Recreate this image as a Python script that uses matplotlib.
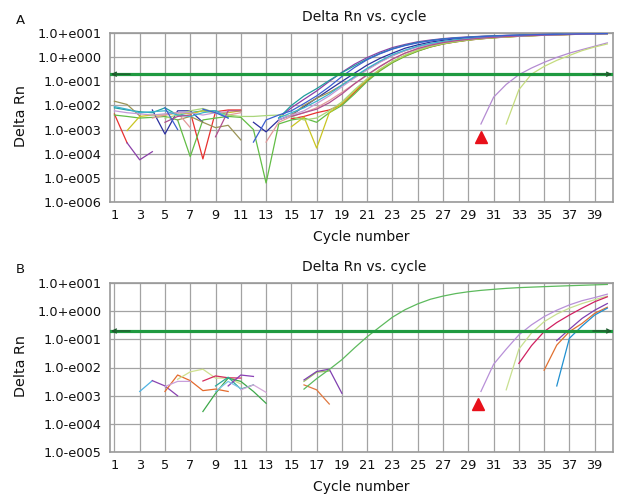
import numpy as np
import matplotlib
matplotlib.use('Agg')
import matplotlib.pyplot as plt
from matplotlib.ticker import FixedLocator, NullLocator, FixedFormatter
import matplotlib.transforms as mtransforms

n = np.nan
cycles = np.arange(1, 41)
threshold = 0.2
x_ticks = list(range(1, 40, 2))

# ---------------- Panel A data (Delta Rn per cycle 1..40, nan = not plotted) ----------------
a_red = [4.4e-3, 2.8e-4, n, n, n, n, 5.5e-3, 6e-5, 5.5e-3, 6.5e-3, 6.5e-3, n, n, n, 2.8e-3, 3.5e-3, 5e-3, 6.5e-3,
         0.011, 0.035, 0.11, 0.29, 0.62, 1.15, 1.85, 2.7, 3.6, 4.4, 5.2, 5.9, 6.5, 7.0, 7.5, 7.9, 8.3, 8.6, 8.9, 9.2, 9.5, 9.8]
a_green = [4e-3, 3.5e-3, 3e-3, 3.2e-3, 3.5e-3, 2.5e-3, 7.5e-5, 2.5e-3, 3e-3, 3.5e-3, 3.2e-3, 1e-3, 6e-6, 1.7e-3,
           2.5e-3, 3e-3, 2e-3, 5e-3, 0.01, 0.03, 0.1, 0.27, 0.6, 1.1, 1.8, 2.7, 3.6, 4.4, 5.2, 5.9, 6.5, 7.0, 7.5, 7.9,
           8.3, 8.6, 8.9, 9.2, 9.5, 9.7]
a_navy = [n, n, n, 6.5e-3, 6.5e-4, 6e-3, 6e-3, 2e-3, n, n, n, 2e-3, 8e-4, 2.5e-3, 4e-3, 9e-3, 0.02, 0.045, 0.1, 0.22,
          0.48, 0.9, 1.5, 2.4, 3.3, 4.3, 5.1, 5.9, 6.5, 7.0, 7.4, 7.8, 8.1, 8.4, 8.7, 8.9, 9.1, 9.3, 9.5, 9.7]
a_purple = [n, 2.8e-4, 5.5e-5, 1.2e-4, n, n, n, n, n, n, n, n, n, 3e-3, 8e-3, 0.018, 0.04, 0.1, 0.24, 0.52, 0.98,
            1.65, 2.55, 3.45, 4.45, 5.25, 6.0, 6.6, 7.1, 7.5, 7.9, 8.2, 8.5, 8.8, 9.0, 9.2, 9.4, 9.5, 9.7, 9.9]
a_teal = [8e-3, 6.5e-3, 5.5e-3, 5e-3, 8e-3, 4e-3, 5e-3, 6e-3, 6e-3, 4e-3, n, n, n, 3e-3, 0.01, 0.025, 0.05, 0.11,
          0.23, 0.45, 0.85, 1.45, 2.3, 3.2, 4.2, 5.0, 5.8, 6.4, 6.9, 7.4, 7.8, 8.1, 8.4, 8.7, 8.9, 9.1, 9.3, 9.4, 9.6, 9.8]
a_olive = [0.015, 0.011, 3.7e-3, n, n, 2.5e-3, 3.5e-3, 2e-3, 1.2e-3, 1.5e-3, 3.7e-4, n, n, n, 4e-3, 0.01, 0.02,
           0.035, 0.07, 0.15, 0.32, 0.65, 1.2, 1.9, 2.8, 3.7, 4.5, 5.3, 6.0, 6.6, 7.1, 7.5, 7.9, 8.3, 8.6, 8.9, 9.2,
           9.4, 9.6, 9.8]
a_yellow = [n, 9e-4, 3.5e-3, 4e-3, 4e-3, 5e-3, 4.5e-3, 6e-3, 5e-3, 5e-3, 6e-3, n, n, n, 1.3e-3, 3.3e-3, 1.7e-4,
            5e-3, 0.012, 0.04, 0.12, 0.31, 0.66, 1.2, 1.95, 2.85, 3.75, 4.55, 5.35, 6.0, 6.6, 7.1, 7.6, 8.0, 8.4, 8.7,
            9.0, 9.3, 9.5, 9.7]
a_salmon = [n, n, n, 3e-3, 4e-3, 5e-3, 1.2e-3, n, n, 4e-3, 5e-3, n, 3e-4, 2e-3, 3.5e-3, 5e-3, 8e-3, 0.016, 0.035,
            0.08, 0.18, 0.4, 0.85, 1.5, 2.3, 3.2, 4.1, 4.9, 5.6, 6.3, 6.8, 7.3, 7.7, 8.1, 8.4, 8.7, 9.0, 9.3, 9.5, 9.7]
a_lightgreen = [n, n, n, n, 3e-3, 4e-3, 6e-3, 7.5e-3, 5e-3, 4e-3, 3.5e-3, 3.5e-3, 3.8e-3, 4e-3, 3.5e-3, 2.5e-3,
                3e-3, 6e-3, 0.014, 0.045, 0.13, 0.32, 0.68, 1.25, 2.0, 2.9, 3.8, 4.6, 5.4, 6.1, 6.7, 7.2, 7.6, 8.0,
                8.4, 8.7, 9.0, 9.3, 9.5, 9.7]
a_lavender = [6e-3, 5e-3, 4.5e-3, 4e-3, 4.5e-3, 5e-3, 5e-3, 4e-3, 5e-3, 5.5e-3, n, n, n, 2.5e-3, 4e-3, 6e-3, 0.012,
              0.025, 0.06, 0.14, 0.3, 0.62, 1.15, 1.9, 2.7, 3.6, 4.4, 5.2, 5.9, 6.5, 7.0, 7.4, 7.8, 8.2, 8.5, 8.8,
              9.1, 9.3, 9.5, 9.7]
a_cyan = [9e-3, 7e-3, 5e-3, 5.5e-3, 6e-3, 4e-3, 3.5e-3, 5e-3, 6e-3, 3e-3, n, n, n, 3e-3, 5e-3, 8e-3, 0.015, 0.03,
          0.07, 0.16, 0.35, 0.7, 1.3, 2.0, 2.9, 3.8, 4.6, 5.4, 6.0, 6.6, 7.1, 7.5, 7.9, 8.3, 8.6, 8.9, 9.2, 9.4, 9.6, 9.8]
a_magenta = [n, n, n, n, 2e-3, 3.5e-3, 4e-3, n, 5e-4, 6e-3, 6e-3, n, n, n, 3.5e-3, 5e-3, 7e-3, 0.013, 0.03, 0.08,
             0.19, 0.42, 0.85, 1.5, 2.3, 3.2, 4.1, 4.9, 5.6, 6.3, 6.8, 7.3, 7.7, 8.1, 8.4, 8.7, 9.0, 9.3, 9.5, 9.7]
a_blue = [n, n, n, n, 8e-3, 1e-3, n, 7e-3, 5e-3, 3e-3, n, 3e-4, 2.5e-3, 4e-3, 6e-3, 0.012, 0.025, 0.06, 0.16, 0.38,
          0.8, 1.4, 2.2, 3.1, 4.0, 4.9, 5.7, 6.3, 6.8, 7.3, 7.7, 8.1, 8.4, 8.7, 8.9, 9.1, 9.3, 9.5, 9.6, 9.8]
a_late_lavender = [n] * 29 + [1.7e-3, 0.022, 0.075, 0.19, 0.36, 0.62, 1.0, 1.5, 2.1, 2.9, 4.0]
a_late_yellowgreen = [n] * 31 + [1.7e-3, 0.045, 0.2, 0.42, 0.75, 1.2, 1.9, 2.7, 3.6]

panel_a = [
    (a_red, '#e8312f'), (a_green, '#62bd45'), (a_navy, '#2b2f9e'), (a_purple, '#8a3fa8'),
    (a_teal, '#1f9e9e'), (a_olive, '#9b9455'), (a_yellow, '#c9c522'), (a_salmon, '#e39a9a'),
    (a_lightgreen, '#a9d57a'), (a_lavender, '#c39ad6'), (a_cyan, '#3bb3cf'), (a_magenta, '#b0508f'),
    (a_blue, '#3d5fd0'), (a_late_lavender, '#b48bd2'), (a_late_yellowgreen, '#c5dc7e'),
]
a_marker = (30.0, 5e-4)

# ---------------- Panel B data: (first cycle, values) ----------------
b_green = (16, [1.7e-3, 4e-3, 8.5e-3, 0.019, 0.05, 0.125, 0.28, 0.62, 1.15, 1.85, 2.7, 3.5, 4.3, 5.0, 5.6, 6.1,
                6.6, 7.0, 7.3, 7.6, 7.9, 8.2, 8.5, 8.8, 9.1])
b_olive = (16, [3.2e-3, 6.8e-3, 7.5e-3])
b_purple_mid = (16, [3.6e-3, 7.2e-3, 8.7e-3, 1.2e-3])
b_orange_mid = (16, [2.4e-3, 1.6e-3, 5e-4])
b_lightblue = (3, [1.4e-3, 3.4e-3])
b_purple = (4, [3.4e-3, 2.2e-3, 9.8e-4])
b_orange = (5, [1.4e-3, 5.4e-3, 3.4e-3, 1.5e-3, 1.7e-3, 1.4e-3])
b_lavender = (5, [2.1e-3, 3.2e-3, 3.2e-3])
b_paleyellow = (6, [3.8e-3, 7e-3, 8.7e-3, 4.2e-3, 4.2e-3, 2.6e-3])
b_crimson = (8, [3.3e-3, 5e-3, 4.3e-3, 4.2e-3])
b_green_base = (8, [2.7e-4, 1.2e-3, 4.2e-3, 3.2e-3, 1.4e-3, 5.3e-4])
b_teal = (9, [2.2e-3, 4.5e-3, 1.7e-3, 2.4e-3])
b_purple2 = (10, [2.2e-3, 5.4e-3, 4.8e-3])
b_lightblue2 = (9, [1.4e-3, 3.2e-3, 1.8e-3])
b_pink = (11, [1.6e-3, 2.4e-3, 1.3e-3])
b_late_lavender = (30, [1.4e-3, 0.013, 0.045, 0.145, 0.33, 0.65, 1.1, 1.7, 2.4, 3.1, 4.1])
b_late_yellowgreen = (32, [1.6e-3, 0.045, 0.17, 0.43, 0.8, 1.3, 1.9, 2.6, 3.5])
b_late_crimson = (33, [0.014, 0.06, 0.19, 0.4, 0.74, 1.3, 2.2, 3.3])
b_late_orange = (35, [8e-3, 0.063, 0.19, 0.37, 0.85, 1.4])
b_late_purple = (36, [0.091, 0.23, 0.56, 1.1, 1.9])
b_late_blue = (36, [2.2e-3, 0.11, 0.3, 0.74, 1.3])

panel_b = [
    (b_lightblue, '#4fb3e3'), (b_purple, '#8a43b0'), (b_orange, '#e46a2c'), (b_lavender, '#c8a0dc'),
    (b_paleyellow, '#cfe08f'), (b_crimson, '#d42c5c'), (b_green_base, '#3ea84a'), (b_teal, '#2aa99a'),
    (b_purple2, '#8a3fb6'), (b_lightblue2, '#7bc3e8'), (b_pink, '#d3a7d9'),
    (b_olive, '#9bc060'), (b_orange_mid, '#e07840'), (b_purple_mid, '#8040b0'), (b_green, '#5dba5d'),
    (b_late_lavender, '#b890d8'), (b_late_yellowgreen, '#c8e090'), (b_late_crimson, '#d02060'),
    (b_late_orange, '#e07030'), (b_late_purple, '#8040b0'), (b_late_blue, '#2090d0'),
]
b_marker = (29.8, 5e-4)

a_exponents = [1, 0, -1, -2, -3, -4, -5, -6]
b_exponents = [1, 0, -1, -2, -3, -4, -5]


def exp_label(e):
    return ('1.0+e%03d' % e) if e >= 0 else ('1.0-e%03d' % (-e))


GRID = '#a3a3a3'
fig = plt.figure(figsize=(6.19, 4.95), dpi=100)
W, H = 619.0, 495.0
axA = fig.add_axes([110 / W, 1 - 201.7 / H, 503 / W, 168.4 / H])
axB = fig.add_axes([110 / W, 1 - 451.7 / H, 503 / W, 168.4 / H])


def style(ax, exps):
    ax.set_yscale('log')
    ax.set_xlim(0.65, 40.45)
    ax.set_ylim(10.0 ** min(exps), 10.0 ** max(exps))
    ax.yaxis.set_major_locator(FixedLocator([10.0 ** e for e in exps]))
    ax.yaxis.set_major_formatter(FixedFormatter([exp_label(e) for e in exps]))
    ax.yaxis.set_minor_locator(NullLocator())
    ax.set_xticks(x_ticks)
    ax.set_xticklabels([str(t) for t in x_ticks])
    ax.tick_params(axis='both', length=0, labelsize=9.3, colors='#111111')
    ax.tick_params(axis='x', pad=5.0)
    ax.tick_params(axis='y', pad=6.0)
    ax.grid(True, color=GRID, lw=0.9)
    ax.set_axisbelow(True)
    for s in ax.spines.values():
        s.set_color('#9a9a9a')
        s.set_linewidth(1.2)
    ax.axhline(threshold, color='#1f9a40', lw=2.3, zorder=4)
    trans = mtransforms.blended_transform_factory(ax.transAxes, ax.transData)
    ax.annotate('', xy=(0.002, threshold), xytext=(0.04, threshold), xycoords=trans, textcoords=trans,
                arrowprops=dict(arrowstyle='->', color='#1d5a2c', lw=1.0, shrinkA=0, shrinkB=0,
                                mutation_scale=7), zorder=5)
    ax.annotate('', xy=(0.998, threshold), xytext=(0.96, threshold), xycoords=trans, textcoords=trans,
                arrowprops=dict(arrowstyle='->', color='#1d5a2c', lw=1.0, shrinkA=0, shrinkB=0,
                                mutation_scale=7), zorder=5)
    ax.text(0.505, 1.073, 'Delta Rn vs. cycle', transform=ax.transAxes, ha='center', va='baseline',
            fontsize=10, color='#111111')
    ax.text(0.5, -0.233, 'Cycle number', transform=ax.transAxes, ha='center', va='baseline',
            fontsize=10, color='#111111')
    ax.text(-0.177, 0.509, 'Delta Rn', transform=ax.transAxes, ha='center', va='center', rotation=90,
            fontsize=10.4, color='#111111')


style(axA, a_exponents)
style(axB, b_exponents)

for vals, col in panel_a:
    axA.plot(cycles, vals, color=col, lw=0.9, zorder=3)
axA.plot([a_marker[0]], [a_marker[1]], marker='^', color='#e8101a', ms=8.5, ls='none', zorder=6)

for (start, vals), col in panel_b:
    xs = np.arange(start, start + len(vals))
    axB.plot(xs, vals, color=col, lw=0.9, zorder=3)
axB.plot([b_marker[0]], [b_marker[1]], marker='^', color='#e8101a', ms=8.5, ls='none', zorder=6)

fig.text(16 / W, 1 - 24 / H, 'A', ha='left', va='baseline', fontsize=9.5, color='#111111')
fig.text(16 / W, 1 - 273.3 / H, 'B', ha='left', va='baseline', fontsize=9.5, color='#111111')

fig.savefig('out.png', dpi=100)
